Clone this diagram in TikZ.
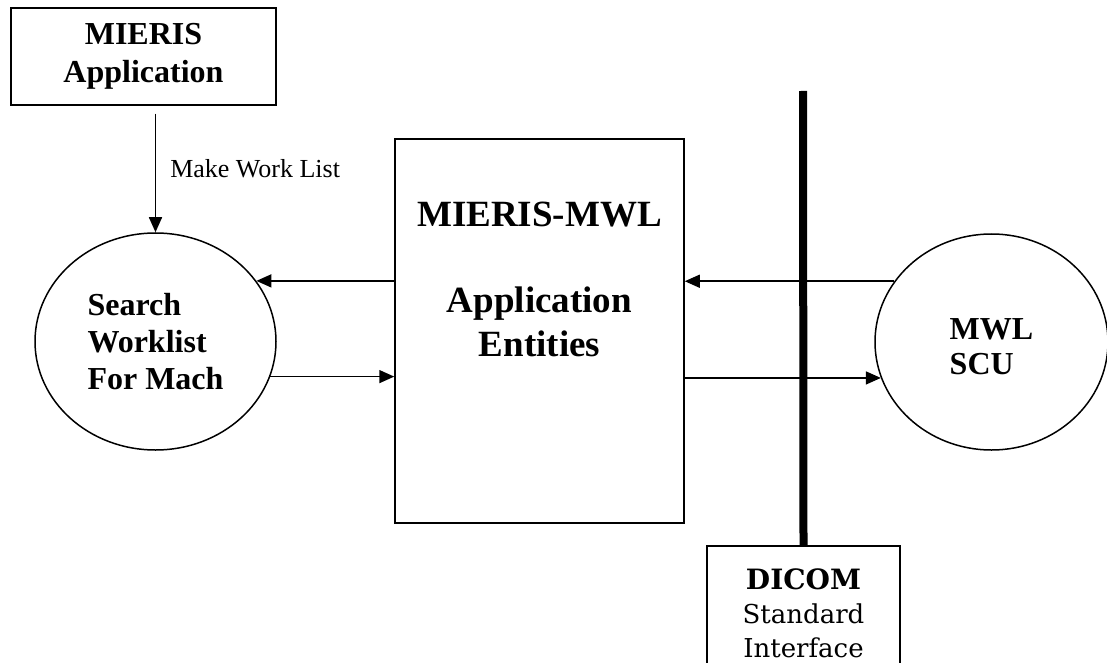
\documentclass[tikz,border=0pt]{standalone}
\usepackage{fontspec}
\newfontfamily\tnr{Liberation Serif}
\newfontfamily\dvs{DejaVu Serif}
\usetikzlibrary{positioning,arrows.meta,shapes.geometric}
\tikzset{box/.style={draw,line width=0.75pt,align=center,inner sep=0pt}}
\tikzset{bubble/.style={draw,ellipse,line width=0.75pt,align=left,inner sep=0pt}}
\tikzset{flow/.style={-{Triangle[length=7.5pt,width=6.5pt]},line width=0.75pt}}
\tikzset{bus/.style={line width=4pt}}

\begin{document}
\begin{tikzpicture}[x=0.5pt,y=-0.5pt]
  \useasboundingbox (0,0) rectangle (1107,663);
  \node[box,minimum width=132.5pt,minimum height=48.5pt,font=\tnr\bfseries\fontsize{16}{19}\selectfont] (app) at (143.5,56.5) {MIERIS\\Application};
  \node[bubble,minimum width=120.5pt,minimum height=108.5pt,font=\tnr\bfseries\fontsize{16}{18.5}\selectfont] (search) at (155.5,341.5) {Search\\Worklist\\For Mach};
  \node[box,minimum width=144.5pt,minimum height=192pt] (mwl) at (539.5,331) {};
  \node[below=31.5pt of mwl.north,align=center,inner sep=0pt,font=\tnr\bfseries\fontsize{18.5}{22}\selectfont] (mwltext) {MIERIS-MWL\\[21pt]Application\\Entities};
  \node[bubble,minimum width=116.5pt,minimum height=108pt,font=\tnr\bfseries\fontsize{16}{17.5}\selectfont] (scu) at (991.5,342) {\rule{0pt}{15pt}MWL\\SCU};
  \node[box,minimum width=96.5pt,minimum height=67pt,font=\dvs\fontsize{13}{17}\selectfont] (dicom) at (803.5,613) {{\bfseries\fontsize{14}{17}\selectfont DICOM}\\Standard\\Interface};
  \coordinate (bustop) at (803,91);
  \draw[bus] (bustop) -- (dicom.north);
  \draw[flow,shorten <=4pt] (search.north |- app.south) -- node[right=7pt,inner sep=0pt,font=\tnr\fontsize{13}{15}\selectfont] (makelbl) {Make Work List} (search.north);
  \draw[flow] (mwl.west |- search.31) -- (search.31);
  \draw[flow] (search.-17) -- (mwl.west |- search.-17);
  \draw[flow] (scu.148) -- (mwl.east |- scu.148);
  \draw[flow] (mwl.east |- scu.198) -- (scu.198);
\end{tikzpicture}
\end{document}
